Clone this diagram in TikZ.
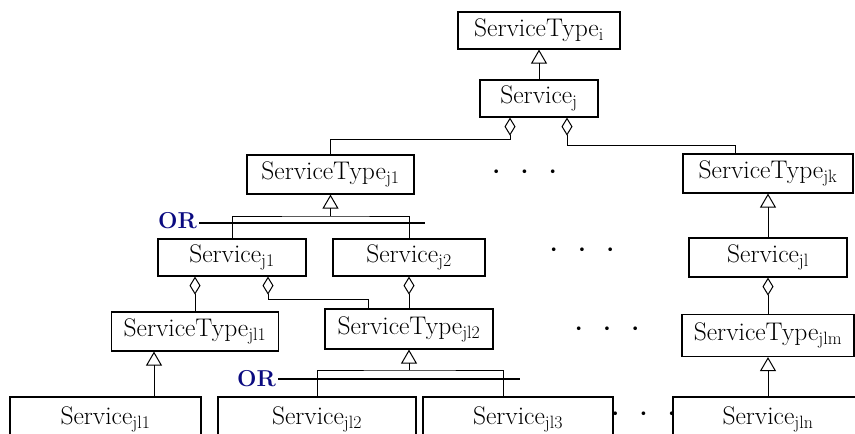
\documentclass[tikz,border=0pt]{standalone}
\usepackage{fontspec}
\usetikzlibrary{arrows.meta}
\definecolor{orblue}{RGB}{10,10,128}
\begin{document}
\begin{tikzpicture}[x=1pt,y=-1pt,line width=1pt,
		box/.style={draw,line width=1.2pt,inner sep=0pt,font=\fontsize{25.5}{28}\selectfont},
		inh/.style={-{Triangle[open,length=14pt,width=16pt]}},
		agg/.style={{Diamond[open,length=18pt,width=11pt]}-},
		orbar/.style={line width=2pt},
		ortext/.style={text=orblue,font=\fontsize{23}{26}\selectfont\bfseries,inner sep=2pt},
		dotrow/.style={font=\fontsize{25.5}{28}\selectfont\bfseries,inner sep=0pt}]
	\useasboundingbox (0,0) rectangle (855,434);
	\foreach \name/\x/\y/\w/\h/\txt in {
		ti/539/30.5/162/37/{ServiceType\textsubscript{i}},
		sj/539/98.5/118/37/{Service\textsubscript{j}},
		tj1/330.5/174.5/167/39/{ServiceType\textsubscript{j1}},
		tjk/768/173.5/170/39/{ServiceType\textsubscript{jk}},
		sj1/232/257.5/148/37/{Service\textsubscript{j1}},
		sj2/409/257.5/152/37/{Service\textsubscript{j2}},
		sjl/768/257.5/158/39/{Service\textsubscript{jl}},
		tjl1/195/331.5/167/39/{ServiceType\textsubscript{jl1}},
		tjl2/409/329/168/40/{ServiceType\textsubscript{jl2}},
		tjlm/768/335.5/172/42/{ServiceType\textsubscript{jlm}},
		sjl1/105.5/419/191/44/{Service\textsubscript{jl1}},
		sjl2/317/419/198/44/{Service\textsubscript{jl2}},
		sjl3/518/419/190/44/{Service\textsubscript{jl3}},
		sjln/768/419/190/44/{Service\textsubscript{jln}}}
	\node[box,minimum width=\w pt,minimum height=\h pt] (\name) at (\x,\y) {\txt};
	\foreach \name/\x/\y in {d1/524.5/175,d2/582/253,d3/607/332,d4/643.5/417}
	\node[dotrow] (\name) at (\x,\y) {\textperiodcentered\hspace{6pt}\textperiodcentered\hspace{6pt}\textperiodcentered};
	\draw[inh] (sj.north) -- (ti.south);
	\draw[agg] ([xshift=-29pt]sj.south) -- ++(0,22) -| (tj1.north);
	\draw[agg] ([xshift=28pt]sj.south) -- ++(0,28) -| ([xshift=-33pt]tjk.north);
	\draw[inh] (sjl.north) -- (tjk.south);
	\draw[agg] (sjl.south) -- (tjlm.north);
	\draw[inh] (sjln.north) -- (tjlm.south);
	\coordinate (orA) at (330.5,216);
	\draw (sj1.north) |- (orA) -| (sj2.north);
	\draw[inh] (orA) -- (tj1.south);
	\node[ortext] (orAlab) at (177.5,220.5) {OR};
	\draw[orbar] ([yshift=-2pt]orAlab.east) -- ++(226,0);
	\draw[agg] ([xshift=-37pt]sj1.south) -- (tjl1.north);
	\draw[agg] ([xshift=36pt]sj1.south) -- ++(0,23) -| ([xshift=-41pt]tjl2.north);
	\draw[agg] (sj2.south) -- (tjl2.north);
	\draw[inh] ([xshift=48.5pt]sjl1.north) -- ([xshift=-41pt]tjl1.south);
	\coordinate (orB) at (409,370);
	\draw (sjl2.north) |- (orB) -| ([xshift=-15pt]sjl3.north);
	\draw[inh] (orB) -- (tjl2.south);
	\node[ortext] (orBlab) at (256.5,379) {OR};
	\draw[orbar] (orBlab.east) -- ++(242,0);
\end{tikzpicture}
\end{document}
